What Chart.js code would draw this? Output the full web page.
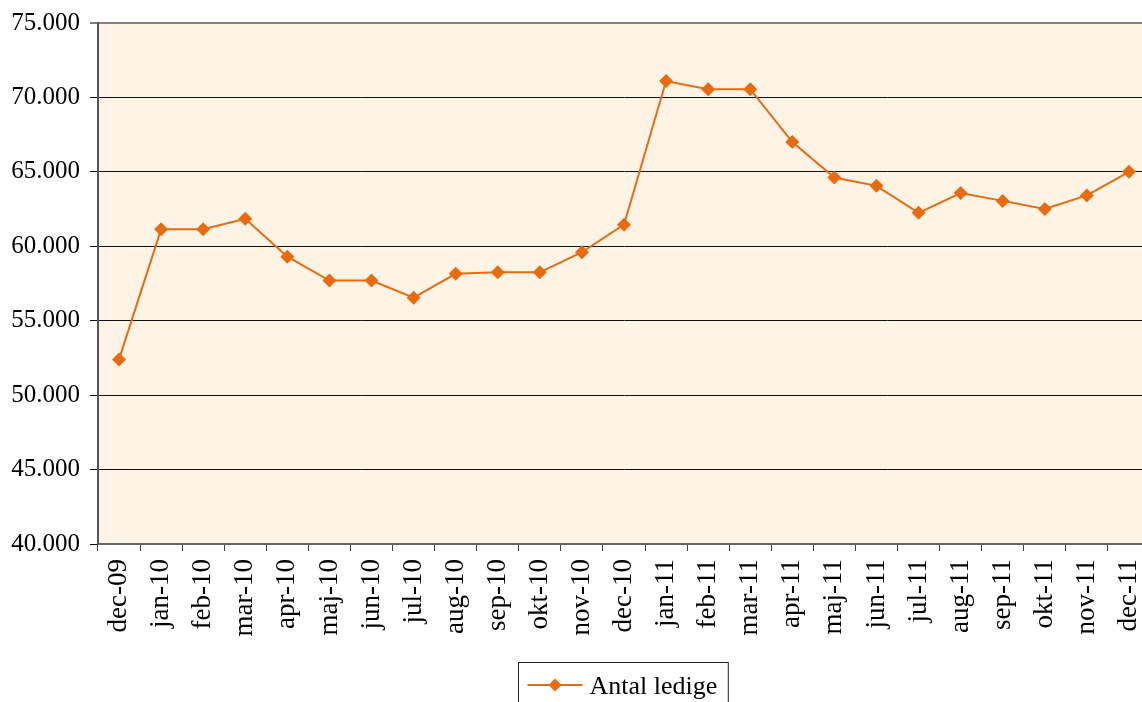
<!DOCTYPE html>
<html>
<head>
<meta charset="utf-8">
<script src="https://cdn.jsdelivr.net/npm/chart.js@4.4.1/dist/chart.umd.min.js"></script>
<style>
  html, body { margin: 0; padding: 0; background: #ffffff; overflow: hidden; }
  #wrap { width: 1142px; height: 702px; position: relative; overflow: hidden; }
  #c { position: absolute; left: 0; top: 0; }
</style>
</head>
<body>
<div id="wrap"><canvas id="c" width="1157" height="702"></canvas></div>
<script>
const categories = ['dec-09','jan-10','feb-10','mar-10','apr-10','maj-10','jun-10','jul-10','aug-10','sep-10','okt-10','nov-10','dec-10','jan-11','feb-11','mar-11','apr-11','maj-11','jun-11','jul-11','aug-11','sep-11','okt-11','nov-11','dec-11'];
const antalLedige = [52400, 61150, 61150, 61850, 59300, 57700, 57700, 56550, 58150, 58250, 58250, 59600, 61450, 71100, 70550, 70550, 67000, 64620, 64060, 62250, 63580, 63050, 62500, 63420, 65000];
const seriesName = 'Antal ledige';
const yMin = 40000, yMax = 75000, yStep = 5000;

const SERIF = '"Liberation Serif", "Times New Roman", Times, serif';
const ORANGE = '#EA6A0E';

function fmt(v) {
  return String(v).replace(/\B(?=(\d{3})+(?!\d))/g, '.');
}

const plotBg = {
  id: 'plotBg',
  beforeDraw(chart) {
    const { ctx, chartArea: a } = chart;
    ctx.save();
    ctx.fillStyle = '#FDF4E6';
    ctx.fillRect(a.left, a.top, a.right - a.left, a.bottom - a.top);
    ctx.restore();
  }
};

const customLegend = {
  id: 'customLegend',
  afterDraw(chart) {
    const ctx = chart.ctx;
    ctx.save();
    ctx.font = '26px ' + SERIF;
    const tw = ctx.measureText(seriesName).width;
    const lineW = 55, gap = 7, padL = 9, padR = 11;
    const boxW = padL + lineW + gap + tw + padR;
    const cx = 623;
    const left = Math.round(cx - boxW / 2) + 0.5;
    const top = 662.5;
    ctx.strokeStyle = '#222';
    ctx.lineWidth = 1;
    ctx.strokeRect(left, top, boxW, 60);
    const ly = 685;
    ctx.strokeStyle = ORANGE;
    ctx.lineWidth = 2;
    ctx.beginPath();
    ctx.moveTo(left + padL, ly);
    ctx.lineTo(left + padL + lineW, ly);
    ctx.stroke();
    const mx = left + padL + lineW / 2, r = 6.5;
    ctx.fillStyle = ORANGE;
    ctx.beginPath();
    ctx.moveTo(mx - r, ly); ctx.lineTo(mx, ly - r); ctx.lineTo(mx + r, ly); ctx.lineTo(mx, ly + r);
    ctx.closePath();
    ctx.fill();
    ctx.fillStyle = '#000';
    ctx.textBaseline = 'alphabetic';
    ctx.fillText(seriesName, left + padL + lineW + gap, 694);
    ctx.restore();
  }
};

new Chart(document.getElementById('c'), {
  type: 'line',
  data: {
    labels: categories,
    datasets: [{
      label: seriesName,
      data: antalLedige,
      borderColor: ORANGE,
      backgroundColor: ORANGE,
      borderWidth: 2,
      pointStyle: 'rectRot',
      pointRadius: 7,
      pointHoverRadius: 7,
      pointBorderWidth: 0,
      tension: 0,
      fill: false
    }]
  },
  options: {
    responsive: false,
    animation: false,
    devicePixelRatio: 1,
    layout: { padding: { top: 23, right: 0, bottom: 0, left: 0 } },
    plugins: {
      legend: { display: false },
      tooltip: { enabled: false }
    },
    scales: {
      x: {
        type: 'category',
        offset: true,
        afterFit(scale) {
          scale.height = 702 - 544;
          scale.paddingLeft = 0; scale.paddingRight = 0;
        },
        grid: {
          offset: true,
          drawOnChartArea: false,
          drawTicks: true,
          tickLength: 7,
          color: '#444',
          lineWidth: 1
        },
        border: { display: true, color: '#666', width: 2 },
        ticks: {
          autoSkip: false,
          minRotation: 90,
          maxRotation: 90,
          padding: 8,
          color: '#000',
          font: { family: SERIF, size: 27 }
        }
      },
      y: {
        min: yMin,
        max: yMax,
        afterFit(scale) {
          scale.width = 98;
          scale.paddingTop = 0; scale.paddingBottom = 0;
        },
        grid: {
          color(ctx) { return ctx.tick && ctx.tick.value === yMax ? '#808080' : '#111'; },
          lineWidth(ctx) { return ctx.tick && ctx.tick.value === yMax ? 2 : 1; },
          tickLength: 8,
          drawTicks: true
        },
        border: { display: true, color: '#555', width: 2 },
        ticks: {
          stepSize: yStep,
          padding: 10,
          color: '#000',
          font: { family: SERIF, size: 25 },
          callback: (v) => fmt(v)
        }
      }
    }
  },
  plugins: [plotBg, customLegend]
});
</script>
</body>
</html>
